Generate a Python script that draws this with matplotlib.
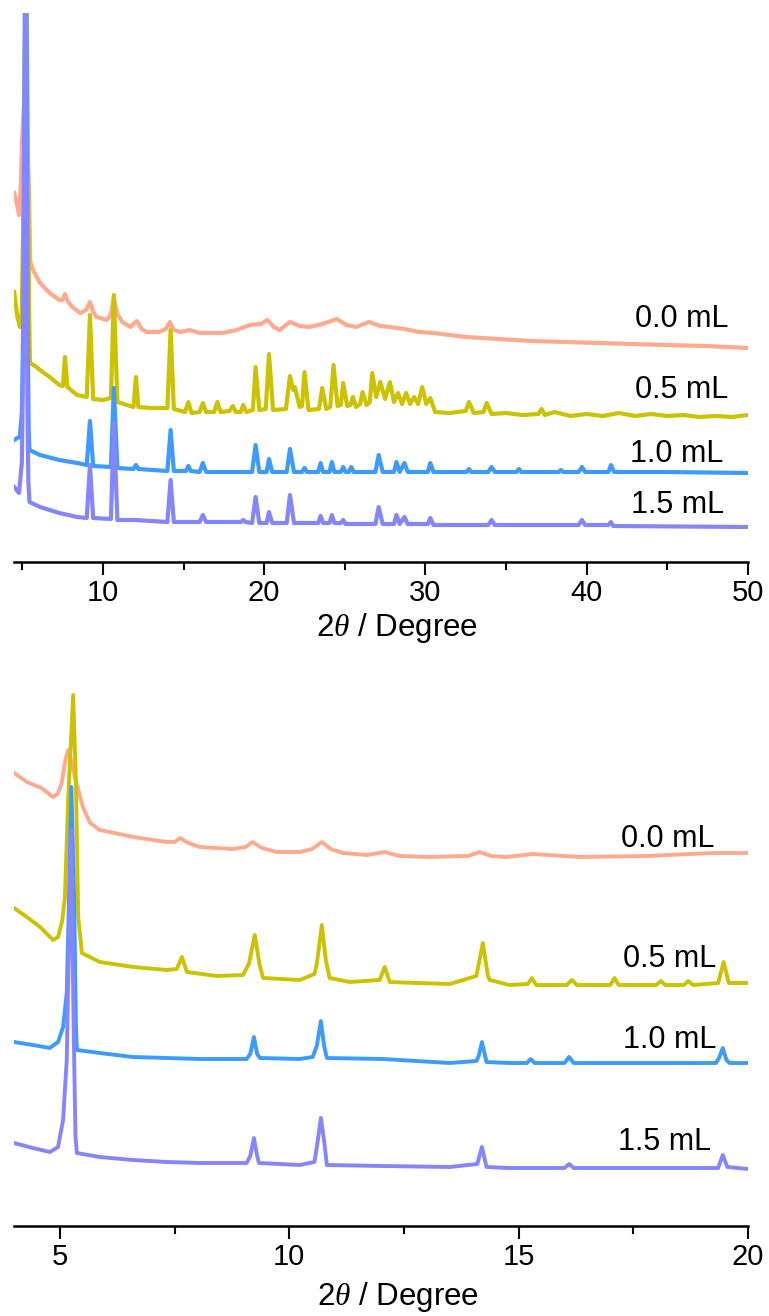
import matplotlib
matplotlib.use("Agg")
import matplotlib.pyplot as plt

plt.rcParams['font.family'] = ['Liberation Sans', 'DejaVu Sans']
plt.rcParams['mathtext.fontset'] = 'custom'
plt.rcParams['mathtext.rm'] = 'Liberation Sans'
plt.rcParams['mathtext.it'] = 'Liberation Serif:italic'

# ---------------- data (2theta, stacked intensity, a.u.) ----------------
LABELS = ["0.0 mL", "0.5 mL", "1.0 mL", "1.5 mL"]
COLORS = ["#FFAA8C", "#CCC200", "#3D9BFF", "#8585FF"]

# Top panel: 2theta 4.5 - 50
TOP_00 = [(4.5, 369), (4.65, 360), (4.8, 347), (4.92, 380), (4.98, 419), (5.08, 450), (5.18, 470),
          (5.3, 430), (5.42, 369), (5.5, 300), (5.67, 292), (6.1, 279), (6.7, 269), (7.3, 262),
          (7.5, 262), (7.65, 268), (7.85, 260), (8.1, 255), (8.6, 249), (8.95, 252), (9.2, 260),
          (9.4, 250), (9.6, 245), (10.25, 242), (10.5, 248), (10.68, 264), (10.9, 248), (11.2, 240),
          (11.7, 235), (12.1, 241), (12.4, 233), (12.7, 230), (13.5, 230), (13.9, 233), (14.15, 240),
          (14.4, 232), (14.8, 230), (15.4, 232), (16.0, 229), (17.4, 229), (18.3, 232), (19.1, 237),
          (19.8, 238), (20.2, 242), (20.6, 235), (20.96, 232), (21.6, 240), (22.2, 236), (22.8, 235),
          (23.6, 238), (24.5, 243), (25.1, 237), (25.7, 235), (26.5, 240), (27.2, 236), (27.8, 235),
          (28.7, 233), (29.6, 230), (30.5, 229), (32.5, 225), (34.5, 223), (36.6, 221), (38.7, 220),
          (40.8, 219), (42.8, 218), (44.9, 217), (47.4, 216), (50.0, 214)]

TOP_05 = [(4.5, 270), (4.7, 245), (4.86, 235), (4.97, 250), (5.05, 330), (5.12, 450), (5.25, 640),
          (5.35, 420), (5.42, 260), (5.48, 199), (5.8, 196), (6.1, 192), (6.7, 185), (7.3, 177),
          (7.52, 176), (7.65, 205), (7.8, 175), (8.4, 167), (9.0, 165), (9.2, 247), (9.4, 163),
          (10.0, 162), (10.5, 164), (10.68, 267), (10.9, 160), (11.5, 157), (11.9, 155), (12.05, 185),
          (12.2, 155), (13.0, 154), (14.0, 154), (14.2, 232), (14.4, 153), (15.1, 150), (15.3, 160),
          (15.5, 149), (16.0, 150), (16.2, 159), (16.4, 150), (16.9, 150), (17.1, 160), (17.3, 150),
          (17.85, 151), (18.05, 156), (18.25, 150), (18.55, 150), (18.7, 157), (18.9, 150),
          (19.3, 152), (19.47, 195), (19.7, 152), (20.1, 153), (20.3, 208), (20.55, 152),
          (21.35, 153), (21.6, 186), (21.8, 172), (21.9, 175), (22.2, 155), (22.35, 156), (22.5, 190),
          (22.75, 152), (23.4, 153), (23.6, 174), (23.85, 153), (24.1, 155), (24.3, 197), (24.55, 156),
          (24.75, 157), (24.9, 179), (25.15, 156), (25.35, 157), (25.5, 165), (25.7, 155),
          (25.95, 158), (26.1, 170), (26.35, 157), (26.55, 160), (26.7, 189), (26.95, 165),
          (27.2, 180), (27.5, 163), (27.8, 180), (28.05, 160), (28.3, 169), (28.55, 158), (28.8, 169),
          (29.05, 158), (29.3, 165), (29.55, 158), (29.8, 175), (30.05, 158), (30.3, 164), (30.6, 150),
          (31.5, 149), (32.5, 151), (32.7, 160), (33.0, 149), (33.6, 150), (33.8, 159), (34.1, 148),
          (35.0, 149), (36.0, 147), (37.0, 148), (37.2, 153), (37.4, 147), (38.0, 150), (39.0, 146),
          (40.0, 148), (41.0, 146), (42.0, 149), (43.0, 146), (44.0, 148), (45.0, 146), (46.0, 147),
          (47.0, 145), (48.0, 146), (49.0, 145), (50.0, 147)]

TOP_10 = [(4.5, 122), (4.7, 124), (4.85, 125), (4.98, 150), (5.08, 260), (5.22, 700), (5.33, 250),
          (5.4, 130), (5.45, 112), (6.1, 107), (7.3, 102), (8.4, 99), (9.0, 97), (9.2, 141), (9.4, 96),
          (10.5, 95), (10.68, 174), (10.9, 94), (11.9, 93), (12.05, 97), (12.2, 93), (14.0, 91),
          (14.2, 132), (14.4, 91), (15.15, 91), (15.3, 96), (15.45, 91), (16.0, 90), (16.2, 99),
          (16.4, 90), (19.25, 90), (19.47, 117), (19.7, 90), (20.15, 90), (20.3, 103), (20.5, 90),
          (21.4, 90), (21.6, 113), (21.85, 90), (22.35, 90), (22.5, 94), (22.65, 90), (23.35, 90),
          (23.5, 99), (23.65, 90), (24.05, 90), (24.2, 100), (24.35, 90), (24.75, 90), (24.9, 95),
          (25.05, 90), (25.25, 90), (25.4, 95), (25.55, 90), (26.9, 90), (27.1, 107), (27.35, 90),
          (28.05, 90), (28.2, 100), (28.4, 90), (28.7, 99), (28.9, 90), (30.15, 90), (30.3, 99),
          (30.5, 90), (32.55, 90), (32.7, 93), (32.85, 90), (33.9, 90), (34.1, 95), (34.3, 90),
          (35.65, 90), (35.8, 93), (35.95, 90), (38.25, 90), (38.4, 92), (38.55, 90), (39.5, 90),
          (39.7, 95), (39.9, 90), (41.35, 90), (41.5, 97), (41.7, 90), (45.0, 90), (50.0, 89)]

TOP_15 = [(4.5, 75), (4.65, 72), (4.8, 69), (4.98, 100), (5.08, 240), (5.2, 700), (5.32, 160),
          (5.38, 80), (5.45, 60), (6.1, 55), (7.3, 49), (8.4, 45), (9.0, 44), (9.2, 97), (9.4, 44),
          (10.5, 43), (10.68, 139), (10.9, 42), (12.0, 42), (14.0, 40), (14.2, 82), (14.4, 40),
          (16.0, 40), (16.2, 47), (16.4, 40), (18.55, 40), (18.7, 42), (18.85, 40), (19.25, 39),
          (19.47, 65), (19.7, 39), (20.15, 39), (20.3, 50), (20.5, 39), (21.4, 39), (21.6, 67),
          (21.85, 39), (23.35, 39), (23.5, 46), (23.65, 39), (24.05, 39), (24.2, 47), (24.35, 39),
          (24.75, 39), (24.9, 42), (25.05, 38), (26.9, 38), (27.1, 55), (27.35, 38), (28.05, 38),
          (28.2, 47), (28.4, 38), (28.7, 45), (28.9, 38), (30.15, 38), (30.3, 44), (30.5, 37),
          (33.9, 37), (34.1, 42), (34.3, 37), (39.5, 37), (39.7, 42), (39.9, 37), (41.35, 37),
          (41.5, 40), (41.65, 36), (50.0, 35)]

# Bottom panel: 2theta 4 - 20
BOT_00 = [(4.0, 453), (4.28, 444), (4.6, 438), (4.85, 429), (4.95, 432), (5.04, 443), (5.12, 466),
          (5.18, 476), (5.25, 465), (5.35, 445), (5.5, 419), (5.66, 403), (5.87, 396), (6.6, 389),
          (7.33, 384), (7.5, 384), (7.62, 388), (7.8, 383), (8.05, 379), (8.77, 377), (9.05, 379),
          (9.2, 384), (9.4, 378), (9.73, 374), (10.23, 374), (10.5, 377), (10.71, 384), (10.9, 377),
          (11.17, 373), (11.69, 371), (12.08, 374), (12.4, 370), (13.06, 369), (13.9, 370),
          (14.15, 374), (14.4, 370), (14.74, 369), (15.3, 372), (16.33, 369), (17.79, 370),
          (19.23, 373), (20.0, 373)]

BOT_05 = [(4.0, 318), (4.28, 309), (4.57, 299), (4.85, 286), (4.96, 289), (5.05, 305), (5.11, 329),
          (5.18, 426), (5.29, 531), (5.35, 443), (5.4, 309), (5.48, 273), (5.87, 264), (6.6, 259),
          (7.33, 256), (7.55, 257), (7.66, 269), (7.77, 254), (8.42, 250), (8.99, 251), (9.12, 262),
          (9.25, 291), (9.35, 262), (9.43, 248), (10.23, 246), (10.55, 252), (10.6, 262),
          (10.71, 301), (10.8, 265), (10.88, 248), (11.32, 244), (11.97, 246), (12.08, 259),
          (12.19, 244), (12.78, 243), (13.5, 242), (14.08, 250), (14.22, 283), (14.33, 250),
          (14.37, 246), (14.8, 241), (15.2, 242), (15.29, 248), (15.38, 241), (16.05, 241),
          (16.16, 246), (16.27, 241), (17.0, 241), (17.09, 248), (17.18, 241), (18.0, 241),
          (18.1, 245), (18.2, 241), (18.6, 241), (18.7, 245), (18.8, 241), (19.35, 243),
          (19.47, 264), (19.58, 243), (20.0, 243)]

BOT_10 = [(4.0, 184), (4.41, 181), (4.78, 178), (4.96, 184), (5.07, 199), (5.15, 233), (5.2, 330),
          (5.25, 439), (5.31, 330), (5.35, 200), (5.37, 176), (5.87, 173), (6.59, 169), (7.33, 168),
          (8.05, 167), (9.07, 167), (9.15, 172), (9.23, 189), (9.3, 172), (9.36, 168), (10.23, 167),
          (10.51, 169), (10.6, 180), (10.69, 205), (10.76, 180), (10.82, 168), (12.04, 167),
          (13.5, 163), (14.08, 165), (14.13, 170), (14.2, 184), (14.27, 170), (14.3, 164),
          (14.8, 163), (15.18, 163), (15.26, 167), (15.35, 163), (16.0, 163), (16.1, 169), (16.2, 163),
          (19.3, 163), (19.37, 168), (19.45, 178), (19.53, 166), (19.6, 163), (20.0, 163)]

BOT_15 = [(4.0, 83), (4.41, 78), (4.78, 74), (4.96, 79), (5.07, 106), (5.15, 166), (5.24, 396),
          (5.3, 200), (5.34, 90), (5.37, 73), (5.87, 69), (6.59, 66), (7.33, 64), (8.05, 63),
          (9.07, 63), (9.15, 70), (9.23, 88), (9.3, 70), (9.34, 63), (10.23, 61), (10.55, 64),
          (10.62, 85), (10.69, 108), (10.76, 85), (10.82, 61), (12.04, 60), (13.5, 59), (14.1, 62),
          (14.2, 79), (14.27, 65), (14.3, 59), (14.8, 58), (16.0, 58), (16.1, 62), (16.2, 58),
          (19.35, 58), (19.45, 71), (19.55, 59), (20.0, 57)]

TOP_SERIES = [TOP_00, TOP_05, TOP_10, TOP_15]
BOT_SERIES = [BOT_00, BOT_05, BOT_10, BOT_15]

TOP_XTICKS = [10, 20, 30, 40, 50]
TOP_MINOR = [5, 15, 25, 35, 45]
BOT_XTICKS = [5, 10, 15, 20]
BOT_MINOR = [7.5, 12.5, 17.5]

# label anchor (right end, baseline) per series
TOP_LABEL_POS = [(48.8, 235), (48.8, 164), (48.5, 100), (48.5, 49)]
BOT_LABEL_POS = [(19.27, 379), (19.3, 259), (19.3, 178), (19.2, 76)]

XLABEL = "2$\\mathit{θ}$ / Degree"

# ---------------- drawing ----------------
W, H = 769, 1316
fig = plt.figure(figsize=(W / 100, H / 100), dpi=100)

def px_axes(left, right, top, bottom):
    return fig.add_axes([left / W, 1 - bottom / H, (right - left) / W, (bottom - top) / H])

ax1 = px_axes(14, 748, 13, 562)
ax2 = px_axes(14, 748, 683, 1226)

def style(ax, xlim, ylim, major, minor, label_xy):
    ax.set_xlim(*xlim)
    ax.set_ylim(*ylim)
    for s in ("left", "right", "top"):
        ax.spines[s].set_visible(False)
    ax.spines["bottom"].set_linewidth(1.8)
    ax.set_yticks([])
    ax.set_xticks(major)
    ax.set_xticks(minor, minor=True)
    ax.tick_params(axis="x", which="major", direction="out", length=9, width=1.5,
                   labelsize=21, pad=3)
    ax.tick_params(axis="x", which="minor", direction="out", length=5.5, width=1.5)
    ax.set_xlabel(XLABEL, fontsize=22.5)
    ax.xaxis.label.set_va("center")
    ax.xaxis.set_label_coords(*label_xy)
    ax.patch.set_alpha(0)

for series, color in zip(TOP_SERIES, COLORS):
    xs, ys = zip(*series)
    ax1.plot(xs, ys, color=color, lw=3.0, solid_joinstyle="round")
for (lx, ly), lab in zip(TOP_LABEL_POS, LABELS):
    ax1.text(lx, ly, lab, ha="right", va="baseline", fontsize=22)
style(ax1, (4.49, 50), (0, 549), TOP_XTICKS, TOP_MINOR, (0.522, -0.120))

for series, color in zip(BOT_SERIES, COLORS):
    xs, ys = zip(*series)
    ax2.plot(xs, ys, color=color, lw=2.8, solid_joinstyle="round")
for (lx, ly), lab in zip(BOT_LABEL_POS, LABELS):
    ax2.text(lx, ly, lab, ha="right", va="baseline", fontsize=22)
style(ax2, (4, 20), (0, 543), BOT_XTICKS, BOT_MINOR, (0.523, -0.131))

fig.savefig("out.png", dpi=100)
